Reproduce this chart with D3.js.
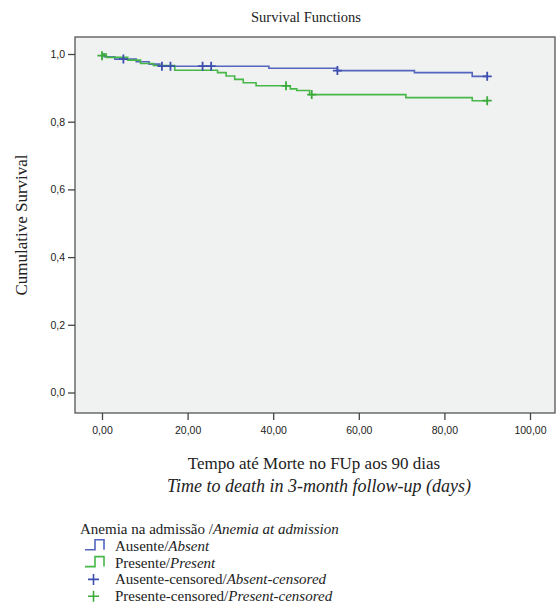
<html><head>
<title>Survival Functions</title>
<style>
  body, html { margin: 0; padding: 0; background: #fff; }
  .tick text { font-family: 'Liberation Sans', Arial, sans-serif; font-size: 10.5px; fill: #222; }
  .serif { font-family: 'Liberation Serif', 'DejaVu Serif', serif; fill: #222; }
</style>
<script src="https://d3js.org/d3.v7.min.js"></script>
</head>
<body>
<script>
// step points [time, survival]
const absentSteps = [[0, 1.0], [0.5, 0.992], [3, 0.985], [8, 0.977], [11, 0.97], [13.5, 0.964], [39, 0.958], [55, 0.951], [73, 0.945], [86.5, 0.934], [90, 0.934]];
const presentSteps = [[0, 1.0], [1, 0.99], [6, 0.982], [9, 0.972], [12, 0.966], [17, 0.952], [27, 0.945], [29, 0.935], [31, 0.925], [33, 0.915], [36, 0.906], [44, 0.897], [45.5, 0.892], [48.5, 0.88], [71, 0.871], [86.5, 0.862], [90, 0.862]];
const absentCensored = [[5, 0.985], [14, 0.964], [16, 0.964], [23.5, 0.964], [25.5, 0.964], [55, 0.951], [90, 0.934]];
const presentCensored = [[0, 0.995], [43, 0.906], [49, 0.88], [90, 0.862]];
const xTicks = [0, 20, 40, 60, 80, 100];
const yTicks = [0, 0.2, 0.4, 0.6, 0.8, 1.0];
const legendLabels = [
  ["Ausente/", "Absent"],
  ["Presente/", "Present"],
  ["Ausente-censored/", "Absent-censored"],
  ["Presente-censored/", "Present-censored"]
];

const blue = "#5465c0", blueMark = "#3d4fae";
const green = "#47b847", greenMark = "#3aaa3a";

const svg = d3.select("body").append("svg")
  .attr("width", 560).attr("height", 610);

const box = {left: 75, right: 555, top: 37, bottom: 413};
const x = d3.scaleLinear().domain([0, 100]).range([102, 530]);
const y = d3.scaleLinear().domain([0, 1]).range([392.5, 54]);

svg.append("rect")
  .attr("x", box.left).attr("y", box.top)
  .attr("width", box.right - box.left).attr("height", box.bottom - box.top)
  .attr("fill", "#f0f1f1").attr("stroke", "#555").attr("stroke-width", 1.3);

// axes
const xAxis = svg.append("g")
  .attr("transform", `translate(0,${box.bottom})`)
  .call(d3.axisBottom(x).tickValues(xTicks).tickSize(7).tickPadding(7)
    .tickFormat(d => d3.format(".2f")(d).replace(".", ",")));
xAxis.select(".domain").remove();

const yAxis = svg.append("g")
  .attr("transform", `translate(${box.left},0)`)
  .call(d3.axisLeft(y).tickValues(yTicks).tickSize(7).tickPadding(3)
    .tickFormat(d => d3.format(".1f")(d).replace(".", ",")));
yAxis.select(".domain").remove();
svg.selectAll(".tick line").attr("stroke", "#444").attr("stroke-width", 1.3);

// curves
const line = d3.line().x(d => x(d[0])).y(d => y(d[1])).curve(d3.curveStepAfter);
[[absentSteps, blue], [presentSteps, green]].forEach(([data, c]) => {
  svg.append("path").datum(data)
    .attr("d", line).attr("fill", "none")
    .attr("stroke", c).attr("stroke-width", 1.6);
});

function plus(sel, data, c, s) {
  sel.selectAll(null).data(data).enter().append("path")
    .attr("d", d => `M${x(d[0]) - s},${y(d[1])}H${x(d[0]) + s}M${x(d[0])},${y(d[1]) - s}V${y(d[1]) + s}`)
    .attr("stroke", c).attr("stroke-width", 1.8).attr("fill", "none");
}
plus(svg, absentCensored, blueMark, 4.5);
plus(svg, presentCensored, greenMark, 4.5);

// titles
svg.append("text").attr("class", "serif")
  .attr("x", 306).attr("y", 22).attr("text-anchor", "middle")
  .style("font-size", "14.5px").text("Survival Functions");

svg.append("text").attr("class", "serif")
  .attr("transform", "translate(27,225) rotate(-90)").attr("text-anchor", "middle")
  .style("font-size", "17px").text("Cumulative Survival");

svg.append("text").attr("class", "serif")
  .attr("x", 314).attr("y", 469).attr("text-anchor", "middle")
  .style("font-size", "17px").text("Tempo até Morte no FUp aos 90 dias");
svg.append("text").attr("class", "serif")
  .attr("x", 319).attr("y", 492).attr("text-anchor", "middle")
  .style("font-size", "18px").style("font-style", "italic")
  .text("Time to death in 3-month follow-up (days)");

// legend
const lg = svg.append("g").attr("transform", "translate(80,534)");
const t0 = lg.append("text").attr("class", "serif").style("font-size", "15px");
t0.append("tspan").text("Anemia na admissão /");
t0.append("tspan").style("font-style", "italic").text("Anemia at admission");

const legendColors = [blue, green, blueMark, greenMark];
legendLabels.forEach((lab, i) => {
  const yy = 16.8 * (i + 1);
  const g = lg.append("g").attr("transform", `translate(0,${yy})`);
  const c = legendColors[i];
  if (i < 2) {
    g.append("path").attr("d", "M5,-1H15V-11H24V-1")
      .attr("fill", "none").attr("stroke", c).attr("stroke-width", 1.6);
  } else {
    g.append("path").attr("d", "M8,-5H19M13.5,-10.5V0.5")
      .attr("fill", "none").attr("stroke", c).attr("stroke-width", 1.6);
  }
  const t = g.append("text").attr("class", "serif").attr("x", 35)
    .style("font-size", "15px");
  t.append("tspan").text(lab[0]);
  t.append("tspan").style("font-style", "italic").text(lab[1]);
});
</script>
</body></html>
